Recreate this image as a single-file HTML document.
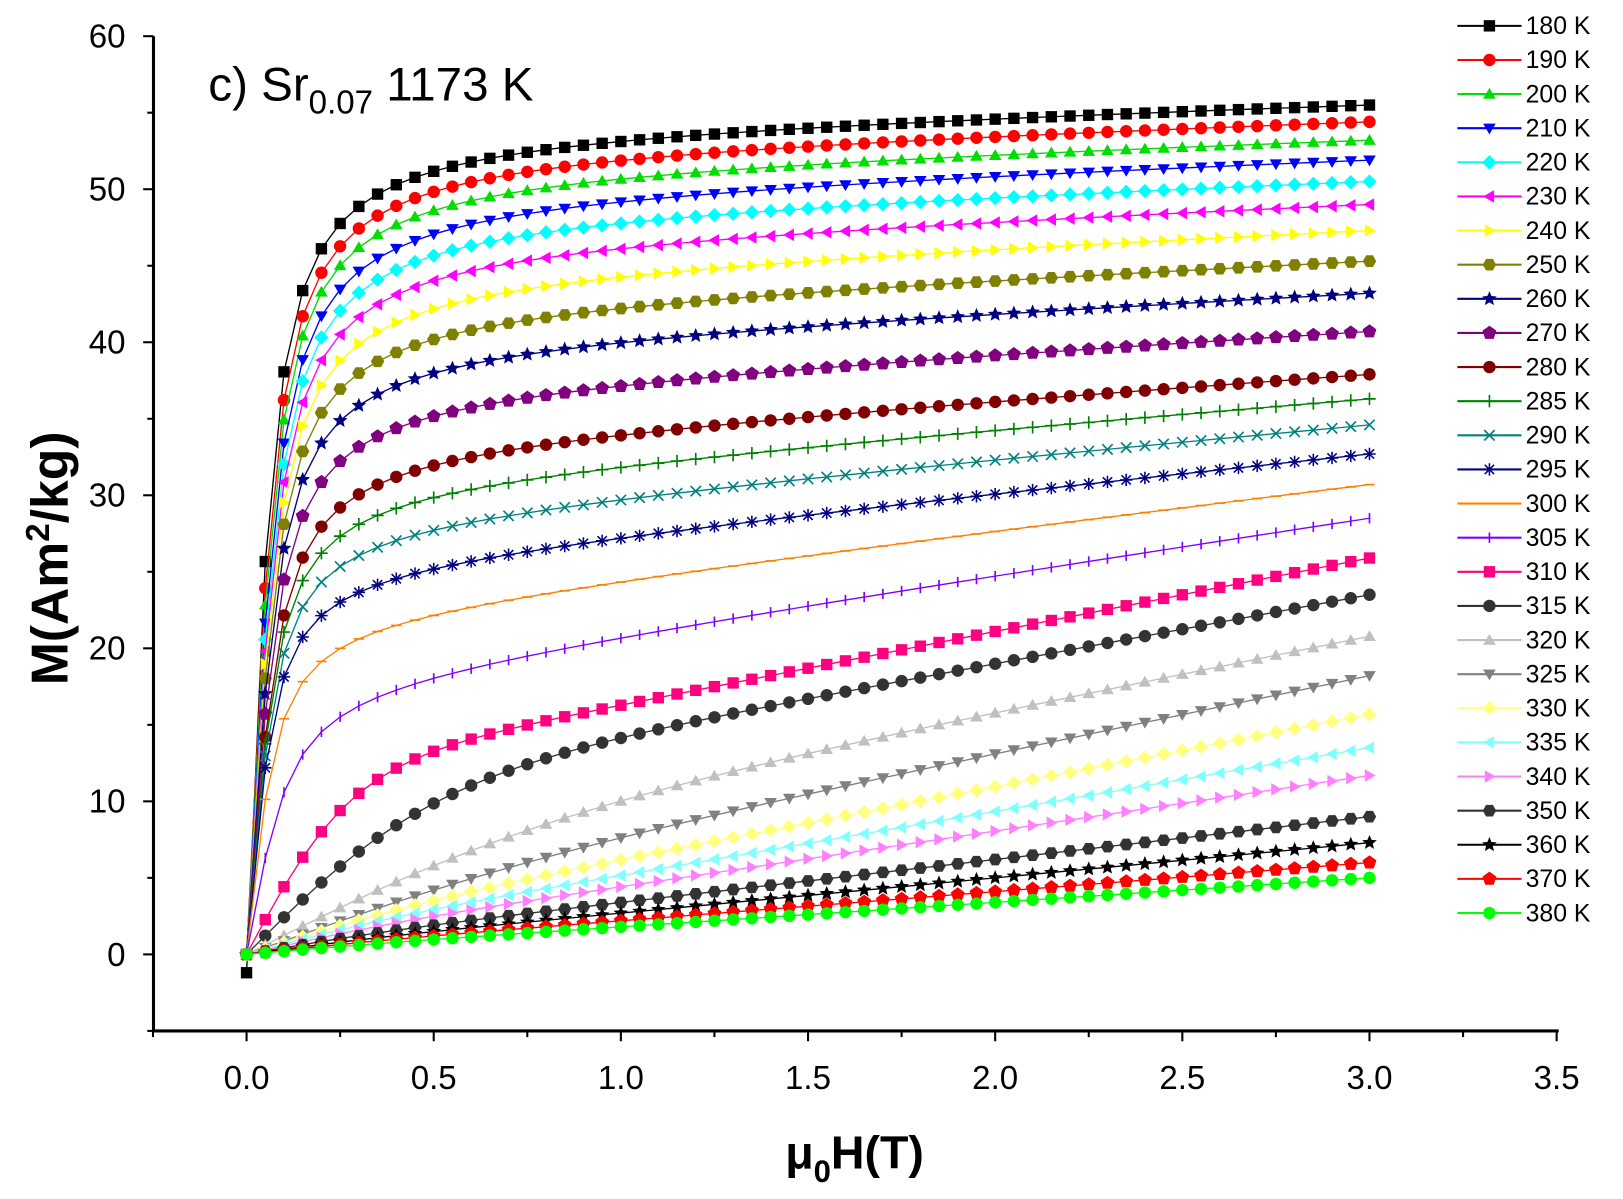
<!DOCTYPE html>
<html><head><meta charset="utf-8"><style>
html,body{margin:0;padding:0;background:#fff;}
svg{display:block;font-family:"Liberation Sans",Arial,sans-serif;}
</style></head><body>
<svg width="1623" height="1199" xmlns="http://www.w3.org/2000/svg"><g id="s" transform="translate(1.5,0) scale(1.034)"></g></svg>
<script>
const S=document.getElementById('s');
const X=h=>237+h*362, Y=m=>923-m*14.8;
let o='';
o+='<line x1="147" y1="35" x2="147" y2="998" stroke="#000" stroke-width="3"/>';
o+='<line x1="146" y1="997" x2="1506" y2="997" stroke="#000" stroke-width="3"/>';
for(let i=-1;i<=14;i++){const h=i*0.25,x=X(h);if(x<146||x>1507)continue;const maj=i%2==0;
 o+=`<line x1="${x}" y1="997" x2="${x}" y2="${997+(maj?10:6)}" stroke="#000" stroke-width="2"/>`;
 if(maj&&h>=0)o+=`<text x="${x}" y="1053" font-size="32" text-anchor="middle">${h.toFixed(1)}</text>`;}
for(let m=-5;m<=60;m+=5){const y=Y(m),maj=m%10==0;
 o+=`<line x1="147" y1="${y}" x2="${147-(maj?10:6)}" y2="${y}" stroke="#000" stroke-width="2"/>`;
 if(maj)o+=`<text x="120" y="${y+11}" font-size="32" text-anchor="end">${m}</text>`;}
o+='<text x="200" y="97" font-size="46">c) Sr<tspan font-size="32" dy="13">0.07</tspan><tspan dy="-13"> 1173 K</tspan></text>';
o+='<text transform="translate(64,540) rotate(-90)" font-size="50" font-weight="bold" text-anchor="middle">M(Am<tspan font-size="32" dy="-18">2</tspan><tspan dy="18">/kg)</tspan></text>';
o+='<text x="825" y="1130" font-size="45" font-weight="bold" text-anchor="middle">μ<tspan font-size="30" dy="13">0</tspan><tspan dy="-13">H(T)</tspan></text>';
const C=[
[180,'#000','sq','L',55.5,.03,.65],[190,'#f00','ci','L',54.4,.032,.7],[200,'#0d0','tu','L',53.2,.033,.7],[210,'#00f','td','L',51.9,.034,.8],
[220,'#0ff','di','L',50.5,.035,.8],[230,'#f0f','tl','L',49,.035,.9],[240,'#ff0','tr','L',47.3,.035,1.0],[250,'#808000','hx','L',45.3,.035,1.05],
[260,'#000080','st','L',43.2,.035,1.15],[270,'#800080','pe','L',40.7,.035,1.35],[280,'#800000','ci','L',37.9,.035,1.6],[285,'#008000','pl','L',36.3,.033,1.9],
[290,'#008080','x','L',34.6,.032,2.15],[295,'#000080','as','L',32.7,.03,2.5],[300,'#ff8000','da','L',30.7,.032,2.95],[305,'#8000ff','vb','L',28.5,.045,3.65],
[310,'#ff0080','sq','T',11.5,.28,4.8],[315,'#333','ci','T',10,.5,4.5],[320,'#c0c0c0','tu','T',6,.8,4.93],[325,'#808080','td','T',3,.8,5.07],
[330,'#ffff80','di','T',1.5,.5,4.73],[335,'#80ffff','tl','T',1,.4,4.17],[340,'#ff80ff','tr','T',.8,.4,3.63],[350,'#333','hx','T',.6,.4,2.8],
[360,'#000','st','T',.4,.4,2.3],[370,'#f00','pe','T',.3,.4,1.9],[380,'#0f0','ci','T',.2,.4,1.6]];
const L=x=>x<1e-6?0:(1/Math.tanh(x)-1/x);
function poly(x,y,r,n,rot){let p=[];for(let k=0;k<n;k++){const a=rot+k*2*Math.PI/n;p.push((x+r*Math.cos(a)).toFixed(1)+','+(y+r*Math.sin(a)).toFixed(1));}return p.join(' ');}
function star(x,y,r,n){let p=[];for(let k=0;k<2*n;k++){const a=-Math.PI/2+k*Math.PI/n,rr=k%2?r*0.45:r;p.push((x+rr*Math.cos(a)).toFixed(1)+','+(y+rr*Math.sin(a)).toFixed(1));}return p.join(' ');}
function mk(t,x,y,c){const r=6;switch(t){
case'sq':return `<rect x="${x-5.5}" y="${y-5.5}" width="11" height="11" fill="${c}"/>`;
case'ci':return `<circle cx="${x}" cy="${y}" r="${r}" fill="${c}"/>`;
case'tu':return `<polygon points="${poly(x,y+1,7,3,-Math.PI/2)}" fill="${c}"/>`;
case'td':return `<polygon points="${poly(x,y-1,7,3,Math.PI/2)}" fill="${c}"/>`;
case'tl':return `<polygon points="${poly(x+1,y,7,3,Math.PI)}" fill="${c}"/>`;
case'tr':return `<polygon points="${poly(x-1,y,7,3,0)}" fill="${c}"/>`;
case'di':return `<polygon points="${poly(x,y,7,4,0)}" fill="${c}"/>`;
case'hx':return `<polygon points="${poly(x,y,6.5,6,0)}" fill="${c}"/>`;
case'pe':return `<polygon points="${poly(x,y,7,5,-Math.PI/2)}" fill="${c}"/>`;
case'st':return `<polygon points="${star(x,y,7.5,5)}" fill="${c}"/>`;
case'pl':return `<path d="M${x-6} ${y}h12M${x} ${y-6}v12" stroke="${c}" stroke-width="1.6"/>`;
case'x':return `<path d="M${x-5} ${y-5}l10 10M${x-5} ${y+5}l10 -10" stroke="${c}" stroke-width="1.6"/>`;
case'as':return `<path d="M${x-6} ${y}h12M${x} ${y-6}v12M${x-4.5} ${y-4.5}l9 9M${x-4.5} ${y+4.5}l9 -9" stroke="${c}" stroke-width="1.5"/>`;
case'da':return `<path d="M${x-5} ${y}h10" stroke="${c}" stroke-width="1.6"/>`;
case'vb':return `<path d="M${x} ${y-5}v10" stroke="${c}" stroke-width="1.6"/>`;}}
C.forEach((d,i)=>{const [T,c,t,k,p1,p2,B]=d;let pts=[],ms='';
 const A=k=='L'?(p1-3*B)/L(3/p2):p1;
 for(let j=0;j<=60;j++){const h=j*0.05;let m=k=='L'?A*L(h/p2)+B*h:A*Math.tanh(h/p2)+B*h;if(T==180&&j==0)m=-1.2;
  const x=X(h),y=Y(m);pts.push(x.toFixed(1)+','+y.toFixed(1));ms+=mk(t,x,y,c);}
 o+=`<polyline points="${pts.join(' ')}" fill="none" stroke="${c}" stroke-width="1.3"/>`+ms;
 const ly=25+33*i;
 o+=`<line x1="1408" y1="${ly}" x2="1470" y2="${ly}" stroke="${c}" stroke-width="2"/>`+mk(t,1439,ly,c);
 o+=`<text x="1474" y="${ly+8}" font-size="24">${T} K</text>`;});
S.innerHTML=o;
</script>
</body></html>
